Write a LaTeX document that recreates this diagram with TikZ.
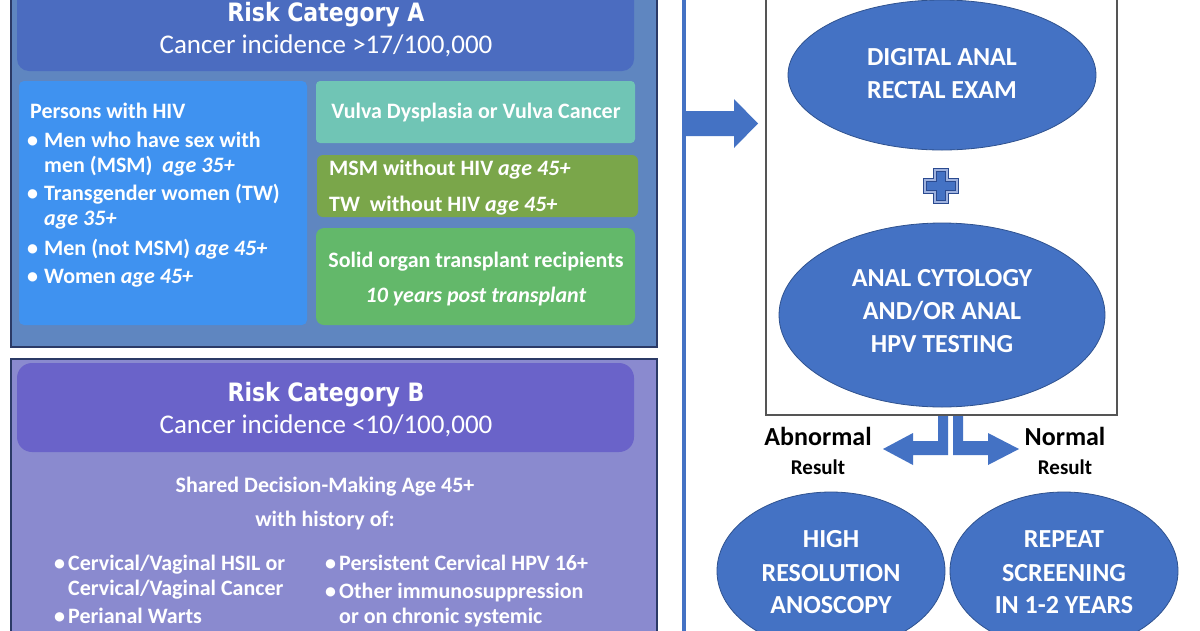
\documentclass[tikz,border=0pt]{standalone}
\usepackage{fontspec}
\setmainfont{Carlito}
\newfontfamily\heavy{DejaVu Sans}
\usetikzlibrary{shapes.geometric}
\definecolor{panelA}{HTML}{5F86C0}
\definecolor{panelB}{HTML}{8A8ACF}
\definecolor{panelline}{HTML}{2B3A66}
\definecolor{titleA}{HTML}{4B6CC0}
\definecolor{titleB}{HTML}{6A63C9}
\definecolor{hivblue}{HTML}{3F92F0}
\definecolor{tealbox}{HTML}{70C5B5}
\definecolor{olivebox}{HTML}{7AA64A}
\definecolor{greenbox}{HTML}{63B86A}
\definecolor{mainblue}{HTML}{4472C4}
\definecolor{ellline}{HTML}{2F528F}
\definecolor{pluslight}{HTML}{9FB2DE}
\definecolor{plusdark}{HTML}{2A4A90}
\definecolor{boxgray}{HTML}{555555}
\newcommand{\ttlscale}[1]{\scalebox{1.0}[1.15]{#1}}
\begin{document}
\begin{tikzpicture}[x=1pt,y=-1pt,
  box/.style={inner sep=0, outer sep=0, anchor=north west},
  wt/.style={text=white, inner sep=0, anchor=base west, font=\fontsize{22}{26}\selectfont\bfseries},
  wtc/.style={wt, anchor=base},
  ttl/.style={text=white, inner sep=0, anchor=base, font=\fontsize{22}{26}\selectfont\heavy\bfseries},
  sub/.style={text=white, inner sep=0, anchor=base, font=\fontsize{27}{30}\selectfont},
  elltxt/.style={text=white, inner sep=0, anchor=base, font=\fontsize{26}{30}\selectfont\bfseries},
  ell/.style={ellipse, fill=mainblue, draw=ellline, line width=0.8pt, inner sep=0},
  blk/.style={text=black, inner sep=0, anchor=base, font=\fontsize{26}{30}\selectfont\bfseries},
  blks/.style={text=black, inner sep=0, anchor=base, font=\fontsize{21}{24}\selectfont\bfseries},
]
\useasboundingbox (0,0) rectangle (1200,630);
\clip (0,0) rectangle (1200,630);
\fill[white] (0,0) rectangle (1200,630);

% ---------- Panel A ----------
\draw[fill=panelA, draw=panelline, line width=1.5pt] (11,-10) rectangle (657,347);
\fill[titleA, rounded corners=12pt] (17,-30) rectangle (634,71);
\node[box, fill=hivblue, rounded corners=5pt, minimum width=288pt, minimum height=244pt] (hiv) at (19,81) {};
\node[box, fill=tealbox, rounded corners=4pt, minimum width=319pt, minimum height=62pt] (teal) at (316,81) {};
\node[box, fill=olivebox, rounded corners=6pt, minimum width=321pt, minimum height=62pt] (olive) at (317,155) {};
\node[box, fill=greenbox, rounded corners=8pt, minimum width=319pt, minimum height=97pt] (green) at (316,228) {};

\node[ttl] (rA) at (326,21) {\ttlscale{Risk Category A}};
\node[sub] (iA) at (326,53) {Cancer incidence >17/100,000};

\node[wt] (h0) at (30,118) {Persons with HIV};
\node[wt] (hb1) at (27,147) {•};
\node[wt] (h1) at (44,147) {Men who have sex with};
\node[wt] (h1b) at (44,172) {men (MSM)\ \ \textit{age 35+}};
\node[wt] (hb2) at (27,200) {•};
\node[wt] (h2) at (44,200) {Transgender women (TW)};
\node[wt] (h2b) at (44,225) {\textit{age 35+}};
\node[wt] (hb3) at (27,255) {•};
\node[wt] (h3) at (44,255) {Men (not MSM) \textit{age 45+}};
\node[wt] (hb4) at (27,283) {•};
\node[wt] (h4) at (44,283) {Women \textit{age 45+}};

\node[wtc] (v1) at (476,118) {Vulva Dysplasia or Vulva Cancer};
\node[wt] (m1) at (329,175) {MSM without HIV \textit{age 45+}};
\node[wt] (m2) at (329,211) {TW\ \ without HIV \textit{age 45+}};
\node[wtc] (s1) at (476,267) {Solid organ transplant recipients};
\node[wtc] (s2) at (476,302) {\textit{10 years post transplant}};

% ---------- Panel B ----------
\draw[fill=panelB, draw=panelline, line width=1.5pt] (11,359) rectangle (657,650);
\fill[titleB, rounded corners=15pt] (17,363) rectangle (634,452);
\node[ttl] (rB) at (326,401) {\ttlscale{Risk Category B}};
\node[sub] (iB) at (326,433) {Cancer incidence <10/100,000};
\node[wtc] (sd) at (325,492) {Shared Decision-Making Age 45+};
\node[wtc] (wh) at (325,526) {with history of:};

\node[wt] (lb1) at (54,570) {•};
\node[wt] (l1) at (68,570) {Cervical/Vaginal HSIL or};
\node[wt] (l1b) at (68,595) {Cervical/Vaginal Cancer};
\node[wt] (lb2) at (54,623) {•};
\node[wt] (l2) at (68,623) {Perianal Warts};
\node[wt] (rb1) at (325,570) {•};
\node[wt] (r1) at (339,570) {Persistent Cervical HPV 16+};
\node[wt] (rb2) at (325,598) {•};
\node[wt] (r2) at (339,598) {Other immunosuppression};
\node[wt] (r2b) at (339,623) {or on chronic systemic};

% ---------- Right flow ----------
\draw[mainblue, line width=4pt] (684,-10) -- (684,640);
\fill[mainblue] (682,111) -- (734,111) -- (734,99) -- (758,123.5) -- (734,148) -- (734,136) -- (682,136) -- cycle;

\draw[boxgray, line width=1.3pt] (766,-10) rectangle (1117,415);

\node[ell, minimum width=308pt, minimum height=150pt] (dare) at (942,75) {};
\node[elltxt] (d1) at (942,65) {DIGITAL ANAL};
\node[elltxt] (d2) at (942,98) {RECTAL EXAM};

\begin{scope}[shift={(941,186)}]
\draw[draw=plusdark, fill=pluslight, line width=0.7pt]
  (-7.5,-17.5) -- (7.5,-17.5) -- (7.5,-7.5) -- (17.5,-7.5) -- (17.5,7.5) -- (7.5,7.5) -- (7.5,17.5) -- (-7.5,17.5) -- (-7.5,7.5) -- (-17.5,7.5) -- (-17.5,-7.5) -- (-7.5,-7.5) -- cycle;
\draw[draw=plusdark, fill=mainblue, line width=0.7pt]
  (-4.5,-14.5) -- (4.5,-14.5) -- (4.5,-4.5) -- (14.5,-4.5) -- (14.5,4.5) -- (4.5,4.5) -- (4.5,14.5) -- (-4.5,14.5) -- (-4.5,4.5) -- (-14.5,4.5) -- (-14.5,-4.5) -- (-4.5,-4.5) -- cycle;
\end{scope}

\node[ell, minimum width=326pt, minimum height=184pt] (cyto) at (942,315) {};
\node[elltxt] (c1) at (942,286) {ANAL CYTOLOGY};
\node[elltxt] (c2) at (942,319) {AND/OR ANAL};
\node[elltxt] (c3) at (942,352) {HPV TESTING};

% split arrows
\fill[mainblue] (938,416) -- (948,416) -- (948,455) -- (913,455) -- (913,465) -- (883,449) -- (913,433) -- (913,441) -- (938,441) -- cycle;
\fill[mainblue] (953,416) -- (963,416) -- (963,441) -- (988,441) -- (988,433) -- (1019,449) -- (988,465) -- (988,455) -- (953,455) -- cycle;

\node[blk] (ab) at (818,445) {Abnormal};
\node[blks] (abr) at (818,474) {Result};
\node[blk] (no) at (1065,445) {Normal};
\node[blks] (nor) at (1065,474) {Result};

\node[ell, minimum width=228pt, minimum height=158pt] (hra) at (831,571) {};
\node[elltxt] (e1) at (831,547) {HIGH};
\node[elltxt] (e2) at (831,581) {RESOLUTION};
\node[elltxt] (e3) at (831,613) {ANOSCOPY};

\node[ell, minimum width=228pt, minimum height=158pt] (rep) at (1064,571) {};
\node[elltxt] (f1) at (1064,547) {REPEAT};
\node[elltxt] (f2) at (1064,581) {SCREENING};
\node[elltxt] (f3) at (1064,613) {IN 1-2 YEARS};
\end{tikzpicture}
\end{document}
